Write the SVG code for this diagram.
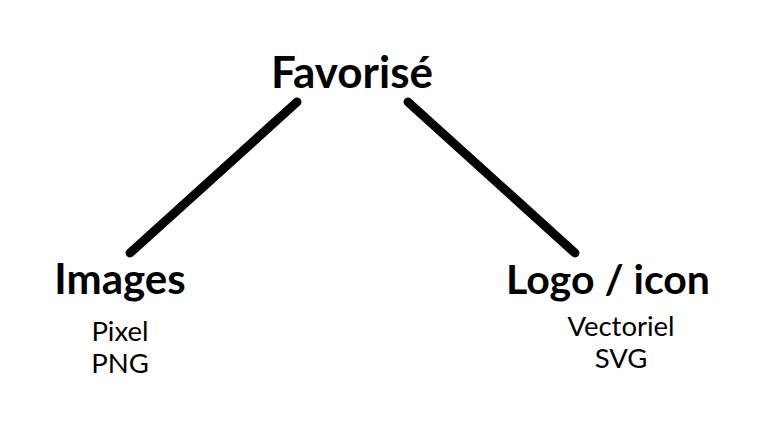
<svg xmlns="http://www.w3.org/2000/svg" width="769" height="434" viewBox="0 0 769 434">
<style>
.t{font-family:Lato,"Liberation Sans",sans-serif;font-weight:bold;font-size:42px;fill:#000;text-anchor:middle}
.s{font-family:Lato,"Liberation Sans",sans-serif;font-size:27.5px;fill:#000;text-anchor:middle}
.c{stroke:#000;stroke-width:9;stroke-linecap:round;fill:none}
</style>
<rect width="769" height="434" fill="#fff"/>
<g id="connectors">
<line class="c" x1="130" y1="253" x2="297" y2="102"/>
<line class="c" x1="408" y1="102" x2="575" y2="253"/>
</g>
<g id="favorise"><text class="t" x="352" y="88" style="font-size:44px">Favorisé</text></g>
<g id="images"><text class="t" x="120" y="294">Images</text>
<text class="s" x="120" y="341">Pixel</text>
<text class="s" x="120" y="373">PNG</text></g>
<g id="logo"><text class="t" x="608" y="294" style="font-size:41px">Logo / icon</text>
<text class="s" x="621" y="336">Vectoriel</text>
<text class="s" x="621" y="368">SVG</text></g>
</svg>
